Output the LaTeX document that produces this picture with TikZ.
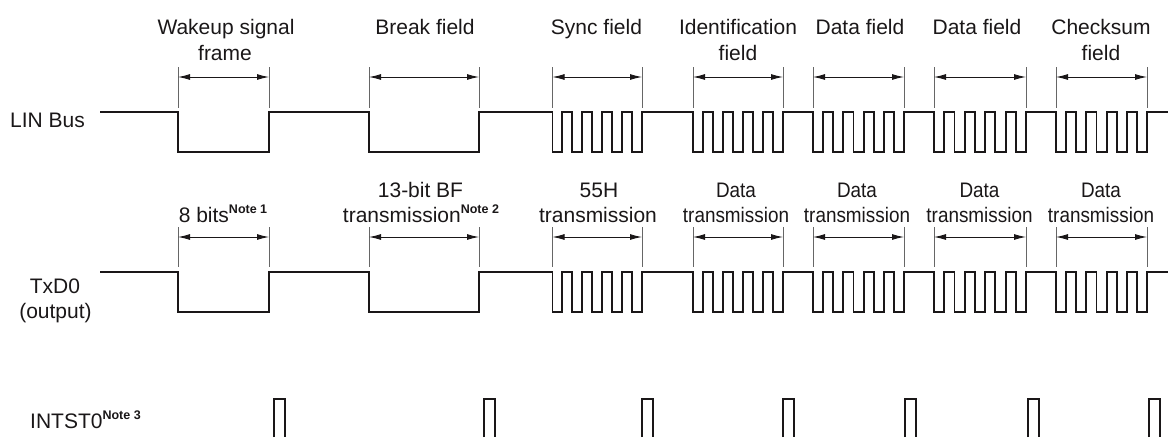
\documentclass[tikz,border=0pt]{standalone}
\usepackage{fontspec}
\setmainfont{Liberation Sans}
\usetikzlibrary{arrows.meta}
\definecolor{ink}{HTML}{1A1718}
\newcommand\notemark[1]{\raisebox{9pt}{\fontsize{12.5}{14}\selectfont\bfseries Note #1}}
\newcommand\cond[1]{\scalebox{0.9}[1]{#1}}
\begin{document}
\begin{tikzpicture}[x=1pt,y=-1pt,
  wave/.style={draw=ink,line width=1.9pt,line join=miter},
  marker/.style={draw=black!60,line width=0.8pt},
  dim/.style={draw=ink,line width=0.9pt,{Latex[length=12pt,width=6pt]}-{Latex[length=12pt,width=6pt]}},
  lbl/.style={anchor=base,inner sep=0pt,text=ink,font=\fontsize{21}{25}\selectfont}]
\useasboundingbox (0,0) rectangle (1168,437);

% waveforms LIN Bus and TxD0
\foreach \yh/\yl in {112/152,272/312}{
  \draw[wave] (100,\yh) -- (178,\yh) -- (178,\yl) -- (269,\yl) -- (269,\yh)
    -- (369,\yh) -- (369,\yl) -- (479,\yl) -- (479,\yh)
    \foreach \s/\e in {552.5/642,693/783,813/904,934/1026,1056/1147}{
      \foreach \k in {0,2,4,6,8}{
        -- ({\s+(\e-\s)*\k/9},\yh) -- ({\s+(\e-\s)*\k/9},\yl)
        -- ({\s+(\e-\s)*(\k+1)/9},\yl) -- ({\s+(\e-\s)*(\k+1)/9},\yh)
      }
    } -- (1168,\yh);
}

% INTST0 pulses
\foreach \x in {274.3,484,641.7,782.7,905,1028,1149}{
  \draw[wave] (\x,437) -- (\x,399) -- ({\x+11},399) -- ({\x+11},437);
}

% field markers and dimension arrows
\foreach \i/\s/\e in {1/178/269,2/369/479,3/552.5/642,4/693/783,5/813/904,6/934/1026,7/1056/1147}{
  \foreach \r/\ya/\yb/\yc in {t/67/108/77,b/227/267/237}{
    \coordinate (\r\i s) at (\s,\yc);
    \coordinate (\r\i e) at (\e,\yc);
    \draw[marker] (\s,\ya) -- (\s,\yb);
    \draw[marker] (\e,\ya) -- (\e,\yb);
    \draw[dim] (\r\i s) -- (\r\i e);
  }
}

% top labels
\node[lbl] (wk1) at (226,34) {Wakeup signal};
\node[lbl] (wk2) at (225,60) {frame};
\node[lbl] (brk) at (425,34) {Break field};
\node[lbl] (syn) at (596.5,34) {Sync field};
\node[lbl] (id1) at (738,34) {Identification};
\node[lbl] (id2) at (738,60) {field};
\node[lbl] (df1) at (860,34) {Data field};
\node[lbl] (df2) at (977,34) {Data field};
\node[lbl] (ck1) at (1101,34) {Checksum};
\node[lbl] (ck2) at (1101,60) {field};

% TxD0 labels
\node[lbl] (b8) at (223,222) {8 bits\notemark{1}};
\node[lbl] (bf1) at (420.5,197) {13-bit BF};
\node[lbl] (bf2) at (421,222) {transmission\notemark{2}};
\node[lbl] (s1) at (599,197) {55H};
\node[lbl] (s2) at (598,222) {transmission};
\node[lbl] (d1a) at (736,197) {\cond{Data}};
\node[lbl] (d1b) at (736,222) {\cond{transmission}};
\node[lbl] (d2a) at (857,197) {\cond{Data}};
\node[lbl] (d2b) at (857,222) {\cond{transmission}};
\node[lbl] (d3a) at (979.5,197) {\cond{Data}};
\node[lbl] (d3b) at (979.5,222) {\cond{transmission}};
\node[lbl] (d4a) at (1101,197) {\cond{Data}};
\node[lbl] (d4b) at (1101,222) {\cond{transmission}};

% left signal names
\node[lbl,anchor=base west] (lin) at (10,127) {LIN Bus};
\node[lbl] (txd1) at (55,293) {TxD0};
\node[lbl] (txd2) at (55.5,318) {(output)};
\node[lbl,anchor=base west] (ints) at (30,428) {INTST0\notemark{3}};
\end{tikzpicture}
\end{document}
